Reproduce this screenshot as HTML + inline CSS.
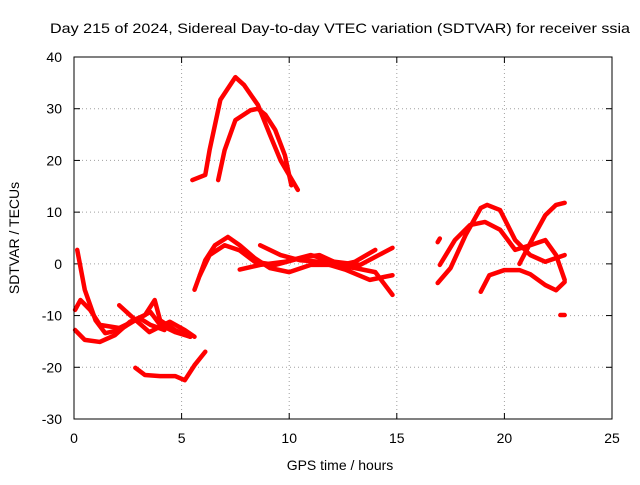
<!DOCTYPE html>
<html><head><meta charset="utf-8"><style>
body{margin:0;background:#fff;}
svg text{font-family:"Liberation Sans",sans-serif;font-size:14px;fill:#000;}
</style></head><body>
<svg id="chart" width="640" height="480" xmlns="http://www.w3.org/2000/svg">
<text x="50" y="33" textLength="580" lengthAdjust="spacingAndGlyphs">Day 215 of 2024, Sidereal Day-to-day VTEC variation (SDTVAR) for receiver ssia</text>
<text x="340" y="470" text-anchor="middle">GPS time / hours</text>
<text transform="translate(19,238) rotate(-90)" text-anchor="middle">SDTVAR / TECUs</text>
<g id="grid"></g><g id="ticks"></g><g id="series"></g>
<rect x="74" y="57" width="538" height="362" fill="none" stroke="#000" stroke-width="1"/>
</svg>
<script>
const xTicks=[0,5,10,15,20,25];
const yTicks=[-30,-20,-10,0,10,20,30,40];
const trackA=[[5.5,16.2],[6.1,17.2],[6.3,22],[6.8,31.7],[7.5,36.1],[7.9,34.6],[8.55,30.7],[9.1,25],[9.6,20],[10.4,14.3]];
const trackB=[[6.7,16.2],[7.0,22],[7.5,27.8],[8.2,29.7],[8.55,30],[8.9,28.8],[9.35,25.9],[9.8,21],[10.1,15.2]];
const trackC=[[2.85,-20.1],[3.3,-21.5],[4,-21.7],[4.7,-21.7],[5.15,-22.5],[5.6,-19.6],[6.1,-17]];
const trackD=[[0.15,2.7],[0.5,-5],[1,-10.9],[1.45,-13.4],[2.1,-12.8],[2.85,-10.9],[3.55,-9.3],[4,-11.8],[4.7,-13.2],[5.4,-14.1]];
const trackE=[[0.05,-12.8],[0.5,-14.7],[1.2,-15.1],[1.9,-13.8],[2.6,-11.2],[3.3,-9.9],[3.75,-7],[4,-10.9],[4.7,-12.8],[5.4,-14.1]];
const trackF=[[0.05,-8.9],[0.3,-7],[0.75,-8.9],[1.2,-11.8],[2.1,-12.4],[3.05,-10.5],[3.55,-11.8],[4.2,-12.8]];
const trackG=[[2.1,-8],[2.6,-9.9],[3.5,-13.2],[4.45,-11.2],[5.15,-12.8],[5.6,-14.1]];
const trackH=[[5.6,-5],[6.1,0.7],[6.55,3.6],[7.15,5.2],[7.7,3.6],[8.4,1.1],[9.1,-0.8],[10,-1.6],[11,-0.2],[11.9,-0.2],[13.05,-0.8],[14,-1.6],[14.8,-6]];
const trackI=[[5.85,-2.2],[6.3,1.7],[7,3.6],[7.7,2.6],[8.4,0.4],[9.35,-0.2],[10.5,1.1],[11.4,1.7],[12.4,-0.2],[13.05,0.4],[14,2.7]];
const trackJ=[[8.65,3.6],[9.6,1.7],[10.5,0.7],[11.4,0.4],[12.6,-1.1],[13.75,-3.1],[14.8,-2.2]];
const trackK=[[7.7,-1.1],[8.65,-0.2],[9.8,0.4],[11,1.7],[12.1,0.4],[13.3,-0.2],[14.8,3.1]];
const trackL=[[16.9,-3.7],[17.5,-0.8],[18.2,5.6],[18.9,10.8],[19.2,11.4],[19.8,10.4],[20.5,4.6],[21.2,1.7],[21.9,0.4],[22.8,1.7]];
const trackM=[[17.0,-0.2],[17.7,4.6],[18.4,7.5],[19.1,8.1],[19.8,6.6],[20.5,2.7],[21.2,3.6],[21.9,4.6],[22.4,1.7],[22.8,-3.1]];
const trackO=[[18.9,-5.4],[19.3,-2.2],[20,-1.2],[20.7,-1.2],[21.2,-2],[21.9,-4.1],[22.4,-5.1],[22.8,-3.5]];
const trackP=[[20.7,0],[21.4,5.6],[21.9,9.4],[22.4,11.4],[22.8,11.8]];
const trackQ=[[16.9,4.2],[17.0,4.9]];
const trackR=[[22.6,-9.9],[22.8,-9.9]];
const tracks=[trackA,trackB,trackC,trackD,trackE,trackF,trackG,trackH,trackI,trackJ,trackK,trackL,trackM,trackO,trackP,trackQ,trackR];
const NS="http://www.w3.org/2000/svg";
const X=t=>74+t*538/25;
const Y=v=>419-(v+30)*362/70;
const grid=document.getElementById('grid'),ticks=document.getElementById('ticks'),ser=document.getElementById('series');
function mk(tag,attrs,parent){const e=document.createElementNS(NS,tag);for(const k in attrs)e.setAttribute(k,attrs[k]);parent.appendChild(e);return e;}
xTicks.forEach(t=>{
  if(t>0&&t<25){const g=mk('line',{x1:X(t),x2:X(t),y1:57,y2:419,stroke:'#a0a0a0','stroke-dasharray':'1,3'},grid);
  
  }
  const tx=mk('text',{x:X(t),y:443,'text-anchor':'middle'},ticks);tx.textContent=t;
  
  
  mk('line',{x1:X(t),x2:X(t),y1:419,y2:413,stroke:'#000'},ticks);
  mk('line',{x1:X(t),x2:X(t),y1:57,y2:63,stroke:'#000'},ticks);
});
yTicks.forEach(v=>{
  if(v>-30&&v<40){const g=mk('line',{x1:74,x2:612,y1:Y(v),y2:Y(v),stroke:'#a0a0a0','stroke-dasharray':'1,3'},grid);
  
  }
  const tx=mk('text',{x:62,y:Y(v)+5,'text-anchor':'end'},ticks);tx.textContent=v;
  
  
  mk('line',{x1:74,x2:80,y1:Y(v),y2:Y(v),stroke:'#000'},ticks);
  mk('line',{x1:612,x2:606,y1:Y(v),y2:Y(v),stroke:'#000'},ticks);
});
tracks.forEach(tr=>{
  const p=mk('polyline',{points:tr.map(d=>X(d[0])+','+Y(d[1])).join(' '),fill:'none',stroke:'#ff0000','stroke-width':4.5,'stroke-linejoin':'round','stroke-linecap':'round'},ser);
  
  
});
</script>
</body></html>
